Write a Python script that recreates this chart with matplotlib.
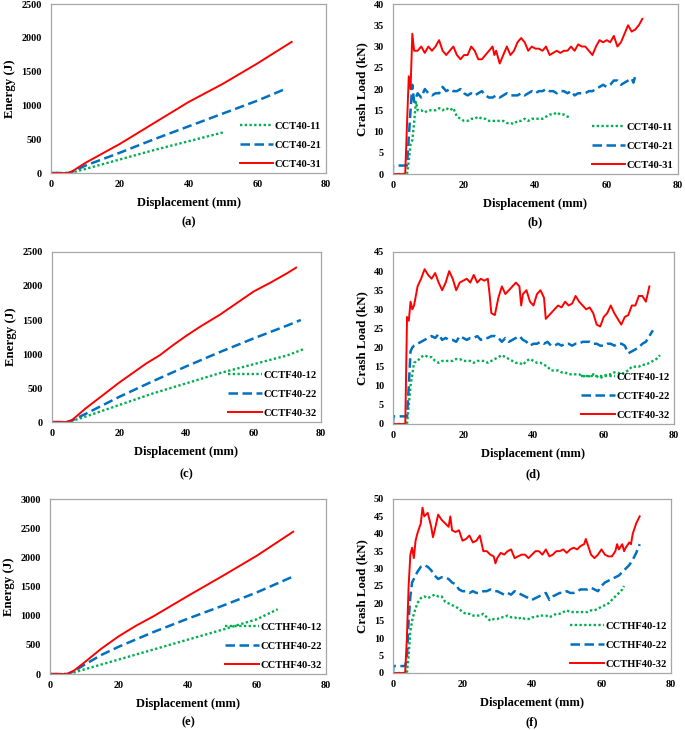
import numpy as np
import matplotlib.pyplot as plt

plt.rcParams['font.family'] = ['Liberation Serif', 'DejaVu Serif']
plt.rcParams['font.weight'] = 'bold'

GREEN = '#00B050'
BLUE = '#0070C0'
RED = '#FF0000'

# ---- (a) energy, CCT40 ----
a_names = ['CCT40-11', 'CCT40-21', 'CCT40-31']
a_11 = [(0, 0), (5.5, 0), (10, 60), (20, 200), (30, 340), (40, 470), (50, 600)]
a_21 = [(0, 0), (5, 0), (6, 15), (10, 110), (20, 300), (30, 500), (40, 690), (50, 880), (60, 1070), (68, 1240)]
a_31 = [(0, 0), (5, 0), (6, 20), (10, 150), (20, 430), (30, 740), (40, 1050), (50, 1320), (60, 1620), (70, 1940)]

# ---- (b) crash load, CCT40 ----
b_11 = [(0, 0), (4, 0), (4.5, 3), (5, 7), (5.5, 8), (6, 12), (6.5, 17), (7, 15), (8, 15), (9, 14.5), (10, 15),
        (11, 15), (12, 15), (13, 15.5), (14, 15), (15, 15.5), (16, 15), (17, 15.5), (18, 13.5), (19, 13),
        (20, 12.5), (21, 12.5), (22, 13), (23, 13), (24, 13.5), (25, 13), (26, 13), (27, 12.5), (28, 12.5),
        (29, 12.5), (30, 12.5), (31, 12.5), (32, 12), (33, 12), (34, 11.8), (35, 12.5), (36, 12.5), (37, 13),
        (38, 12.5), (39, 13), (40, 13), (41, 13), (42, 13), (43, 13.5), (44, 14), (45, 14), (46, 14.5),
        (47, 14), (48, 14), (49, 13.5), (50, 13.5)]
b_21 = [(0, 0), (0.1, 2), (4, 2), (5, 15), (5.5, 21), (6, 17), (7, 19), (8, 18), (9, 20), (10, 19), (11, 18.5),
        (12, 19), (13, 19), (14, 20.5), (15, 19.5), (16, 20), (17, 19.5), (18, 19.5), (19, 20), (20, 19),
        (21, 18.5), (22, 19), (23, 18.5), (24, 19), (25, 19.5), (26, 18.5), (27, 18), (28, 18), (29, 18.5),
        (30, 18), (31, 18.5), (32, 19), (33, 18.5), (34, 18.5), (35, 18.5), (36, 19), (37, 18.5), (38, 19),
        (39, 19.5), (40, 19), (41, 19.5), (42, 19.5), (43, 20), (44, 19.5), (45, 19.5), (46, 19), (47, 19.5),
        (48, 19.5), (49, 19), (50, 19.5), (51, 18.5), (52, 19), (53, 19), (54, 19), (55, 19.5), (56, 19.5),
        (57, 20), (58, 20.5), (59, 21), (60, 20.5), (61, 21), (62, 22), (63, 22), (64, 21), (65, 21.5),
        (66, 22), (67, 22.5), (67.5, 21.5), (68, 23), (69, 23)]
b_31 = [(0, 0), (3.5, 0), (4.5, 23), (5, 20), (5.5, 33), (6, 29), (7, 29), (8, 30), (9, 28.5), (10, 30), (11, 29),
        (12, 30), (13, 31.5), (14, 29), (15, 28), (16, 29), (17, 30), (18, 28), (19, 27), (20, 28), (21, 28),
        (22, 30), (23, 29), (24, 27), (25, 27), (26, 28), (27, 29), (28, 30), (28.5, 28), (29, 29), (30, 26),
        (31, 28), (32, 30), (33, 28), (34, 29), (35, 31), (36, 32), (37, 31), (38, 29), (39, 30), (40, 29.5),
        (41, 29.5), (42, 29), (43, 30), (44, 28), (45, 28.5), (46, 29), (47, 28.5), (48, 29), (49, 29), (50, 30),
        (51, 29), (52, 30.5), (53, 30), (54, 30), (55, 29), (56, 28), (57, 30), (58, 31.5), (59, 31),
        (60, 31.5), (61, 31), (62, 32.5), (63, 30), (64, 31), (65, 33), (66, 35), (67, 33.5), (68, 34),
        (69, 35), (70, 36.5)]

# ---- (c) energy, CCTF40 ----
c_names = ['CCTF40-12', 'CCTF40-22', 'CCTF40-32']
c_12 = [(0, 0), (5, 0), (10, 80), (20, 250), (30, 420), (40, 570), (50, 720), (60, 850), (70, 980), (75, 1075)]
c_22 = [(0, 0), (4.5, 0), (6, 25), (10, 120), (20, 370), (30, 600), (40, 820), (50, 1030), (60, 1230), (70, 1420), (74, 1500)]
c_32 = [(0, 0), (4.5, 0), (6, 30), (10, 200), (15, 390), (20, 580), (28, 860), (32, 980), (36, 1130), (40, 1270),
        (44, 1400), (50, 1580), (55, 1750), (60, 1920), (65, 2050), (70, 2190), (72.6, 2270)]

# ---- (d) crash load, CCTF40 ----
d_12 = [(0, 0), (4, 0), (4.5, 5), (5, 10), (5.5, 13), (6, 16), (7, 16.5), (8, 17.5), (9, 18), (10, 17.5), (11, 17.5),
        (12, 16.5), (13, 16), (14, 16.5), (15, 16.5), (16, 16.5), (17, 16.5), (18, 17), (19, 17), (20, 16.5),
        (21, 16.5), (22, 16.5), (23, 16), (24, 16.5), (25, 16.5), (26, 16.5), (27, 16), (28, 16.5), (29, 17),
        (30, 17.5), (31, 18), (32, 17.5), (33, 17), (34, 16.5), (35, 16), (36, 16), (37, 15.5), (38, 16.5),
        (39, 17), (40, 16.5), (41, 16), (42, 16), (43, 15.5), (44, 15), (45, 14), (46, 14), (47, 14),
        (48, 13.5), (49, 13.5), (50, 13), (51, 13), (52, 13), (53, 13), (54, 12.5), (55, 12.5), (56, 12.5),
        (57, 13), (58, 12.5), (59, 12), (60, 12.5), (61, 13), (62, 13), (63, 13.5), (64, 13.5), (65, 13),
        (66, 13.5), (67, 14), (68, 15), (69, 15), (70, 15), (71, 15.5), (72, 15.5), (73, 16), (74, 16.5),
        (75, 17), (76, 18)]
d_22 = [(0, 0), (0.1, 2), (4, 2), (4.5, 10), (5, 19), (5.5, 20), (6, 20.5), (7, 21), (8, 21.5), (9, 22), (10, 22.5),
        (11, 23), (12, 22.5), (13, 23.5), (14, 22), (15, 22.5), (16, 22), (17, 22), (18, 21.5), (19, 23),
        (20, 22.5), (21, 22), (22, 22.5), (23, 22.5), (24, 23), (25, 22), (26, 22.5), (27, 22.5), (28, 23),
        (29, 23), (30, 22.5), (31, 21.5), (32, 22.5), (33, 21.5), (34, 22), (35, 22.5), (36, 23), (37, 22),
        (38, 21.5), (39, 20.5), (40, 21), (41, 21), (42, 21.5), (43, 21), (44, 21.5), (45, 20.5), (46, 20.5),
        (47, 21), (48, 20.5), (49, 21), (50, 21), (51, 20.5), (52, 21), (53, 21), (54, 21.5), (55, 21.5),
        (56, 21.5), (57, 21), (58, 21), (59, 20.5), (60, 20.5), (61, 21), (62, 21), (63, 20.5), (64, 21),
        (65, 21), (66, 20.5), (67, 18.5), (68, 19), (69, 19.5), (70, 20), (71, 21), (72, 21.5), (73, 23),
        (74, 24.5)]
d_32 = [(0, 0), (3.5, 0), (4, 28), (4.5, 27), (5, 32), (5.5, 30), (6, 31), (7, 36), (8, 38), (9, 40.5), (10, 39),
        (11, 38), (12, 39.5), (13, 37), (14, 35), (15, 37), (16, 40), (17, 38), (18, 35), (19, 37), (20, 37.5),
        (21, 38), (22, 37), (23, 39), (24, 37), (25, 38), (26, 37.5), (27, 38), (27.5, 34), (28, 29), (29, 28.5),
        (30, 33), (31, 36), (32, 34), (33, 35), (34, 36), (35, 37), (36, 36), (36.5, 31), (37, 34), (38, 35),
        (39, 32), (40, 31), (41, 34), (42, 35), (43, 33), (43.5, 27.5), (44, 28), (45, 29), (46, 30), (47, 31),
        (48, 30.5), (49, 32), (50, 31), (51, 31.5), (52, 33.5), (53, 32), (54, 31), (55, 30), (56, 30.5),
        (57, 29), (58, 26), (59, 25.5), (60, 28), (61, 29), (62, 31), (63, 29), (64, 27.5), (65, 26), (66, 28),
        (67, 28.5), (68, 31), (69, 31), (70, 33.5), (71, 33.5), (72, 32), (73, 36)]

# ---- (e) energy, CCTHF40 ----
e_names = ['CCTHF40-12', 'CCTHF40-22', 'CCTHF40-32']
e_12 = [(0, 0), (5.5, 0), (10, 80), (20, 250), (30, 420), (40, 590), (50, 760), (60, 940), (66, 1110)]
e_22 = [(0, 0), (5, 0), (7, 50), (10, 160), (15, 330), (20, 470), (30, 720), (40, 950), (50, 1170), (60, 1400), (70.2, 1665)]
e_32 = [(0, 0), (5, 0), (7, 60), (10, 200), (15, 440), (20, 650), (25, 830), (30, 990), (40, 1340), (50, 1680),
        (60, 2030), (70.5, 2440)]

# ---- (f) crash load, CCTHF40 ----
f_12 = [(0, 0), (4, 0), (4.5, 5), (5, 12), (5.5, 15), (6, 17), (7, 20), (8, 21.5), (9, 22), (10, 21.5), (11, 22),
        (12, 22.5), (13, 22), (14, 22), (15, 20.5), (16, 20), (17, 19.5), (18, 19), (19, 18.5), (20, 17.5),
        (21, 17), (22, 17), (23, 16.5), (24, 16.5), (25, 16.5), (26, 17), (27, 16), (28, 15), (29, 15.5),
        (30, 15.5), (31, 16), (32, 16), (33, 16.5), (34, 16), (35, 16), (36, 15.5), (37, 16), (38, 15.5),
        (39, 15.5), (40, 16), (41, 16), (42, 16.5), (43, 16.5), (44, 16.5), (45, 16), (46, 16.5), (47, 17),
        (48, 17), (49, 17.5), (50, 18), (51, 17.5), (52, 17.5), (53, 17.5), (54, 17.5), (55, 17.5), (56, 17.5),
        (57, 18), (58, 18), (59, 18.5), (60, 19), (61, 19.5), (62, 20), (63, 21), (64, 22), (65, 23), (66, 24),
        (66.5, 25)]
f_22 = [(0, 0), (0.1, 2), (3.5, 2), (4, 4), (4.5, 15), (5, 22), (5.5, 26), (6, 27), (7, 29), (8, 30.5), (9, 31),
        (10, 30.5), (11, 29.5), (12, 28), (13, 27), (14, 27.5), (15, 27.5), (16, 27), (17, 26), (18, 25.5),
        (19, 24), (20, 23.5), (21, 23.5), (22, 23), (23, 23.5), (24, 23), (25, 23), (26, 23.5), (27, 23.5),
        (28, 24), (29, 23.5), (30, 23.5), (31, 23), (32, 22.5), (33, 23), (34, 22.5), (35, 23.5), (36, 23),
        (37, 22.5), (38, 22), (39, 21.5), (40, 21), (41, 21.5), (42, 22), (43, 22.5), (44, 23), (45, 21),
        (46, 22), (47, 22.5), (48, 23), (49, 23), (50, 23.5), (51, 23), (52, 23), (53, 23.5), (54, 24),
        (55, 24), (56, 24), (57, 24.5), (58, 24), (59, 23.5), (60, 25), (61, 26), (62, 26.5), (63, 27),
        (64, 27.5), (65, 28), (66, 29), (67, 30), (68, 31), (69, 32.5), (70, 34.5), (71, 37)]
f_32 = [(0, 0), (3.5, 0), (4, 10), (4.5, 25), (5, 34), (5.5, 36), (6, 33), (6.5, 38), (7, 40), (8, 43), (8.5, 47.5),
        (9, 45), (10, 46), (11, 42), (11.5, 39), (12, 41), (13, 45.5), (14, 44), (15, 43), (16, 42), (16.5, 45),
        (17, 41), (18, 40.5), (19, 41), (20, 38), (21, 38.5), (22, 39.5), (23, 37.5), (24, 38), (25, 39.5),
        (26, 35), (27, 35), (28, 34), (29, 33.5), (29.5, 31.5), (30, 33), (31, 34.5), (32, 34), (33, 35),
        (34, 35.5), (35, 33), (36, 33.5), (37, 34), (38, 34), (39, 33), (40, 34), (41, 35), (42, 35), (43, 34),
        (44, 35.5), (45, 33.5), (46, 34), (47, 35), (48, 35), (49, 35.5), (50, 34.5), (51, 35.5), (52, 36),
        (53, 35.5), (54, 36.5), (55, 37), (55.5, 38.5), (56, 37), (57, 34), (58, 33), (59, 34), (60, 35.5),
        (61, 34), (62, 33.5), (63, 33.5), (64, 35), (64.5, 37), (65, 35.5), (66, 37), (66.5, 35), (67, 36),
        (68, 37.5), (68.5, 37), (69, 40), (70, 43), (71, 45)]

fig = plt.figure(figsize=(6.85, 7.3), dpi=100)

panels = [
    # rect, series, names, ylabel, ylim, ystep, caption, caption_y
    ([0.0745, 0.763, 0.4015, 0.2315], [a_11, a_21, a_31], a_names, 'Energy (J)', 2500, 500, '(a)', 0.687),
    ([0.5733, 0.7616, 0.4165, 0.2329], [b_11, b_21, b_31], a_names, 'Crash Load (kN)', 40, 5, '(b)', 0.687),
    ([0.0759, 0.4219, 0.3927, 0.2329], [c_12, c_22, c_32], c_names, 'Energy (J)', 2500, 500, '(c)', 0.342),
    ([0.5737, 0.4192, 0.4102, 0.2356], [d_12, d_22, d_32], c_names, 'Crash Load (kN)', 45, 5, '(d)', 0.342),
    ([0.0730, 0.0767, 0.4029, 0.2397], [e_12, e_22, e_32], e_names, 'Energy (J)', 3000, 500, '(e)', 0.002),
    ([0.5737, 0.0781, 0.4058, 0.2384], [f_12, f_22, f_32], e_names, 'Crash Load (kN)', 50, 5, '(f)', 0.002),
]

styles = [dict(color=GREEN, linestyle=(0, (1, 1)), linewidth=1.7),
          dict(color=BLUE, linestyle=(0, (3.8, 1.8)), linewidth=1.8),
          dict(color=RED, linestyle='-', linewidth=1.4)]

for rect, series, names, ylabel, ymax, ystep, cap, cap_y in panels:
    ax = fig.add_axes(rect)
    for data, name, st in zip(series, names, styles):
        xs, ys = zip(*data)
        ax.plot(xs, ys, label=name, **st)
    ax.set_xlim(0, 80)
    ax.set_ylim(0, ymax)
    ax.set_xticks(np.arange(0, 81, 20))
    ax.set_yticks(np.arange(0, ymax + 1, ystep))
    ax.tick_params(axis='x', length=0, labelsize=7.3, pad=5)
    ax.tick_params(axis='y', length=0, labelsize=7.3, pad=6.5)
    for lab in ax.get_xticklabels() + ax.get_yticklabels():
        lab.set_fontweight('bold')
    for sp in ax.spines.values():
        sp.set_color('#A6A6A6')
        sp.set_linewidth(0.9)
    ax.set_xlabel('Displacement (mm)', fontsize=9, fontweight='bold', labelpad=6)
    ax.set_ylabel(ylabel, fontsize=9.3, fontweight='bold', labelpad=4)
    ax.legend(loc='lower right', frameon=False,
              handlelength=3.2, handletextpad=0.15, labelspacing=0.9,
              borderaxespad=0.0, prop={'weight': 'bold', 'size': 7.6})
    fig.text(rect[0] + rect[2] / 2, cap_y, cap, ha='center', va='bottom',
             fontsize=9, fontweight='bold')

fig.savefig('out.png', dpi=100)
